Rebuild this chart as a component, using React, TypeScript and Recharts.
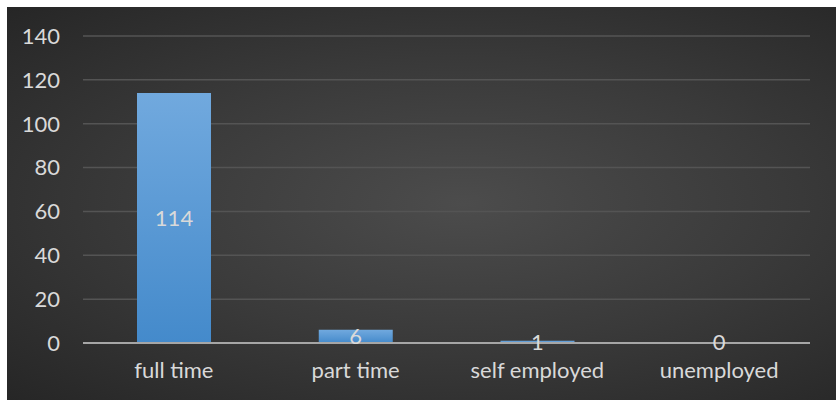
import { BarChart, Bar, XAxis, YAxis, CartesianGrid, LabelList, Cell } from 'recharts'

const categories = ['full time', 'part time', 'self employed', 'unemployed']
const counts = [114, 6, 1, 0]
const yTicks = [0, 20, 40, 60, 80, 100, 120, 140]

const data = categories.map((name, i) => ({ name, count: counts[i] }))

const FONT = 'Lato, "Open Sans", sans-serif'
const TEXT = '#d9d9d9'

export default function App() {
  return (
    <div
      style={{
        position: 'absolute',
        left: 7,
        top: 7,
        width: 829,
        height: 393,
        background: 'radial-gradient(ellipse at 55% 50%, #4c4c4c 0%, #3a3a3a 50%, #262626 100%)',
      }}
    >
      <BarChart
        width={829}
        height={393}
        data={data}
        margin={{ top: 29, right: 26, left: 0, bottom: 0 }}
        barSize={74}
      >
        <defs>
          <linearGradient id="barFill" x1="0" y1="0" x2="0" y2="1">
            <stop offset="0%" stopColor="#71a9de" />
            <stop offset="100%" stopColor="#448acb" />
          </linearGradient>
        </defs>
        <CartesianGrid vertical={false} stroke="#545454" strokeWidth={1.5} />
        <XAxis
          dataKey="name"
          height={57}
          axisLine={{ stroke: '#a6a6a6', strokeWidth: 2 }}
          tickLine={false}
          tickMargin={13}
          tick={{ fill: TEXT, fontSize: 22, fontFamily: FONT }}
        />
        <YAxis
          width={76}
          domain={[0, 140]}
          ticks={yTicks}
          axisLine={false}
          tickLine={false}
          tickMargin={17}
          tick={{ fill: TEXT, fontSize: 22, fontFamily: FONT }}
        />
        <Bar dataKey="count" minPointSize={1} isAnimationActive={false}>
          {data.map((d) => (
            <Cell key={d.name} fill={d.count === 0 ? 'transparent' : 'url(#barFill)'} />
          ))}
          <LabelList dataKey="count" position="center" fill={TEXT} fontSize={22} fontFamily={FONT} />
        </Bar>
      </BarChart>
    </div>
  )
}
